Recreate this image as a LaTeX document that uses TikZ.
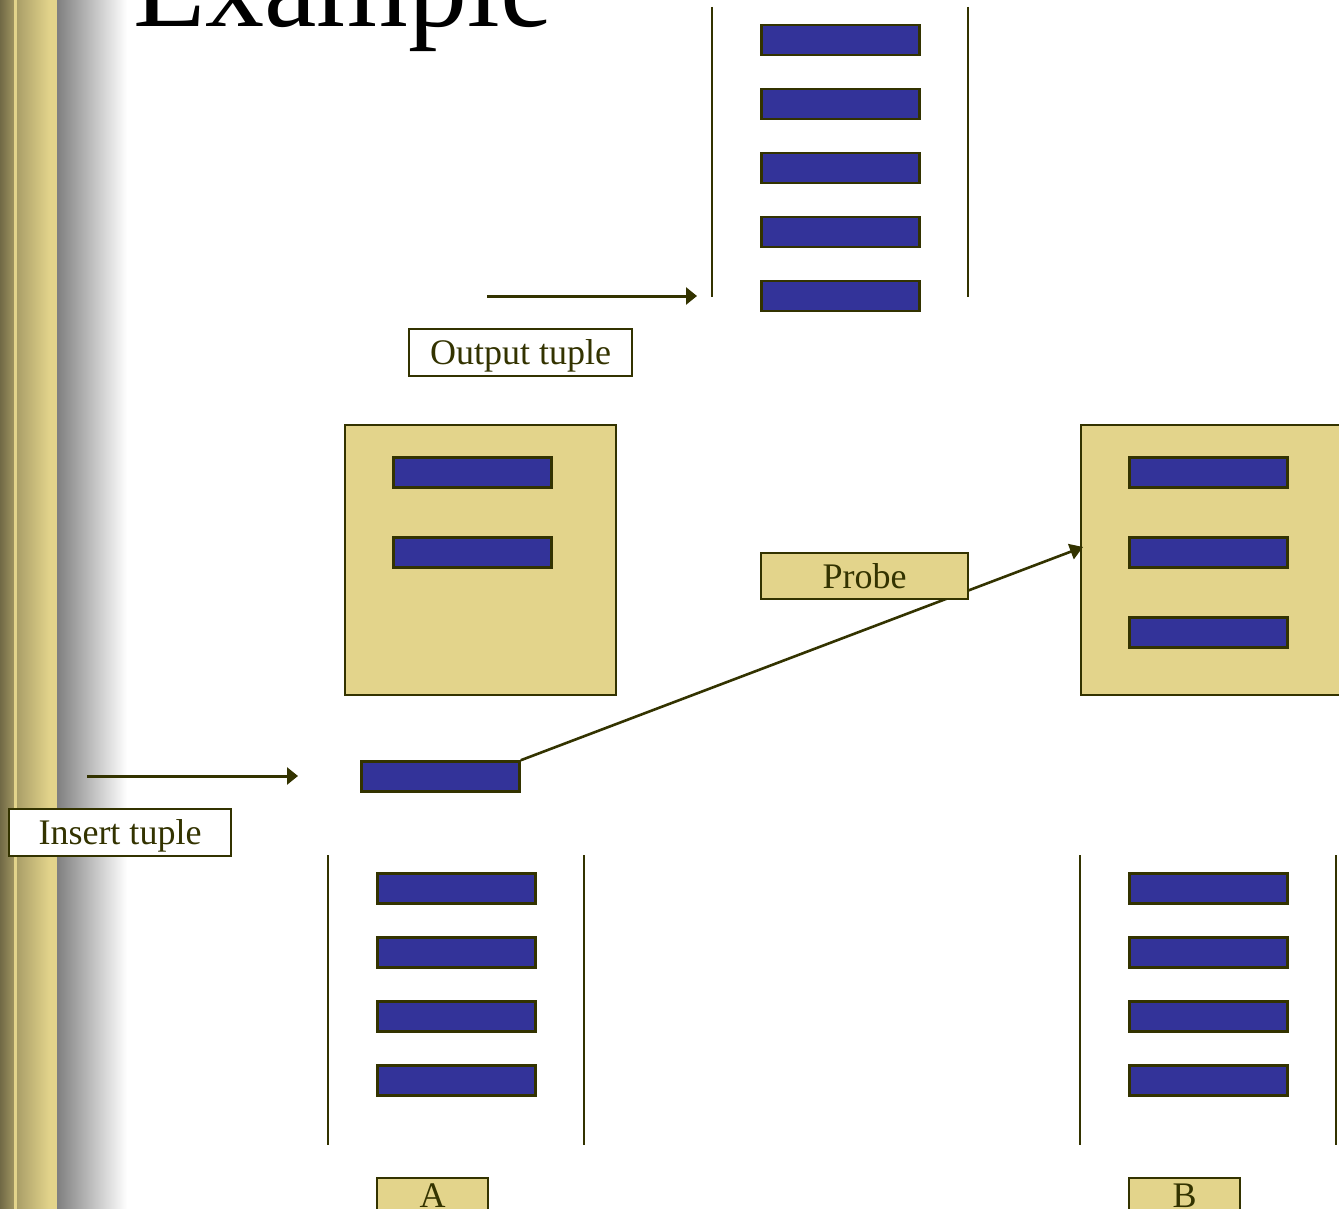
\documentclass[tikz,border=0pt]{standalone}
\usepackage{fontspec}
\setmainfont{Liberation Serif}
\usetikzlibrary{arrows.meta}
\definecolor{olive}{HTML}{333300}
\definecolor{tupleblue}{HTML}{333399}
\definecolor{sand}{HTML}{E3D48B}
\tikzset{
  bar/.style={draw=olive, fill=tupleblue, line width=2.5pt, inner sep=0pt,
    minimum width=158pt, minimum height=30pt},
  hashbox/.style={draw=olive, fill=sand, line width=2.4pt, inner sep=0pt,
    minimum width=271pt, minimum height=270pt},
  wall/.style={draw=olive, line width=2.4pt},
  flow/.style={draw=olive, line width=3pt, -{Triangle[length=11pt,width=17pt]}},
  probeflow/.style={draw=olive, line width=2.6pt, -{Triangle[length=13pt,width=16pt]}},
  tag/.style={draw=olive, line width=2.2pt, inner sep=0pt, text=olive, text depth=0pt,
    font=\fontsize{36}{40}\selectfont},
  reltag/.style={tag, fill=sand, minimum width=111pt, minimum height=36pt}
}
\begin{document}
\begin{tikzpicture}[x=1pt, y=-1pt]
\useasboundingbox (0,0) rectangle (1339,1209);
\clip (0,0) rectangle (1339,1209);

% decorative side band
\shade[left color=black!45!sand!90!black, right color=sand!70!black] (0,0) rectangle (14,1209);
\fill[sand] (14,0) rectangle (17,1209);
\shade[left color=sand!75!black, right color=sand] (17,0) rectangle (50,1209);
\fill[sand] (50,0) rectangle (57,1209);
\shade[left color=black!50, right color=white] (57,0) rectangle (127,1209);

% title
\node[anchor=base west, inner sep=0pt, font=\fontsize{118}{130}\selectfont] (title) at (133,27) {Example};

% output buffer
\draw[wall] (712,7) -- (712,297);
\draw[wall] (968,7) -- (968,297);
\foreach \i/\y in {1/40,2/104,3/168,4/232,5/296}
  \node[bar] (out\i) at (840.5,\y) {};
\coordinate (outstart) at (487,296);
\coordinate (outend) at (697,296);
\draw[flow] (outstart) -- (outend);
\node[tag, fill=white, minimum width=223pt, minimum height=47pt] (outlbl) at (520.5,352.5) {Output tuple};

% hash tables
\node[hashbox] (hashA) at (480.5,560) {};
\node[bar] (hA1) at (472.5,472.5) {};
\node[bar] (hA2) at (472.5,552.5) {};

\node[hashbox] (hashB) at (1216.5,560) {};
\node[bar] (hB1) at (1208.5,472.5) {};
\node[bar] (hB2) at (1208.5,552.5) {};
\node[bar] (hB3) at (1208.5,632.5) {};

% incoming tuple and probe
\node[bar] (newtuple) at (440.5,776.5) {};
\coordinate (probeend) at (1083,547);
\draw[probeflow] (newtuple.north east) -- (probeend);
\node[tag, fill=sand, minimum width=207pt, minimum height=46pt] (probe) at (864.5,576) {Probe};

\coordinate (instart) at (87,776);
\coordinate (inend) at (298,776);
\draw[flow] (instart) -- (inend);
\node[tag, fill=white, minimum width=222pt, minimum height=47pt] (inlbl) at (120,832.5) {Insert tuple};

% relation A
\draw[wall] (328,855) -- (328,1145);
\draw[wall] (584,855) -- (584,1145);
\foreach \i/\y in {1/888.5,2/952.5,3/1016.5,4/1080.5}
  \node[bar] (a\i) at (456.5,\y) {};
\node[reltag] (relA) at (432.5,1196) {A};

% relation B
\draw[wall] (1080,855) -- (1080,1145);
\draw[wall] (1336,855) -- (1336,1145);
\foreach \i/\y in {1/888.5,2/952.5,3/1016.5,4/1080.5}
  \node[bar] (b\i) at (1208.5,\y) {};
\node[reltag] (relB) at (1184.5,1196) {B};
\end{tikzpicture}
\end{document}
